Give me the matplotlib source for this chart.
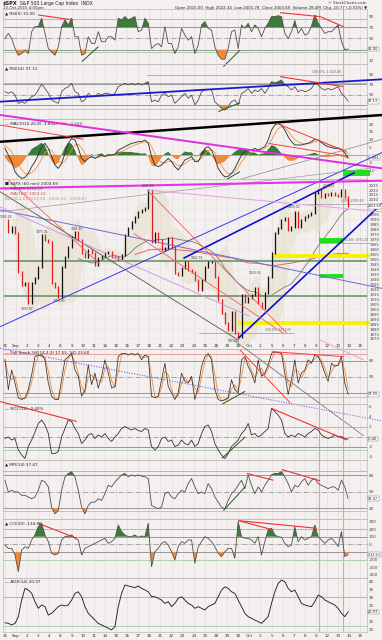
import numpy as np
import pandas as pd
import matplotlib
matplotlib.use("Agg")
import matplotlib.pyplot as plt
import matplotlib.transforms as mtransforms
from matplotlib.patches import Rectangle

plt.rcParams['font.family'] = ['DejaVu Sans']

# ---------------- data ----------------
day_labels = ["31", "Sep", "2", "3", "4", "8", "9", "10", "11", "14", "15", "16", "17", "18",
              "21", "22", "23", "24", "25", "28", "29", "30", "Oct", "2", "5", "6", "7", "8", "9",
              "12", "13", "14", "15"]
sample_step_days = 0.3          # trading days between samples (hourly chart, resampled)

rsi5 = [50, 59, 50, 32, 20, 23, 29, 23, 62, 71,
        71, 86, 59, 32, 26, 20, 35, 71, 83, 74,
        86, 53, 53, 20, 23, 53, 41, 41, 62, 44,
        44, 53, 53, 47, 86, 83, 89, 83, 86, 89,
        62, 65, 86, 77, 32, 38, 41, 35, 71, 41,
        41, 23, 35, 68, 56, 47, 53, 23, 38, 74,
        80, 68, 65, 35, 20, 13, 13, 32, 62, 65,
        32, 74, 68, 77, 62, 74, 68, 53, 68, 77,
        89, 89, 90.5, 89, 59, 50, 62, 82, 59, 68,
        56, 59, 72, 92, 77, 68, 59, 62, 62, 68,
        74, 44, 30, 31.0]

rsi14 = [55.7, 52.5, 55.7, 49.3, 33.1, 36, 33, 39.6, 46, 49,
         59, 70.6, 62, 52.5, 39.6, 36, 33, 55.7, 62, 65,
         72, 55.7, 52.5, 36, 39.6, 52.5, 46, 46, 52.5, 49,
         52.5, 52.5, 49, 52.5, 65.4, 68.7, 72, 68.7, 72, 68.7,
         72, 68.7, 72, 75, 36, 39.6, 36, 49, 52.5, 46,
         49, 33, 39.6, 46, 52.5, 42.8, 49, 30, 39.6, 55.7,
         59, 60.3, 59, 36, 30, 23.4, 20, 26.6, 36.3, 39.6,
         30, 52.5, 55.7, 62, 52.5, 59, 55.7, 62, 52.5, 62,
         75, 73, 75, 78.4, 68.7, 65.4, 59, 65.4, 55.7, 59,
         55.7, 57.7, 62, 72, 68.7, 62, 59, 62, 59, 62,
         65.4, 52.5, 46, 37.13]

macd = [4.3, 0, -4.3, -10.8, -13.6, -15.2, -14.5, -11.9, -7.6, -4.3,
        0, 5.4, 7.6, 4.3, -1, -6.5, -8.7, -5.4, 1, 7.6,
        10.8, 9.7, 4.3, -2.2, -4.3, -2.2, -1, -2.2, -1, 0,
        -1, 0, 0, 0.6, 3.2, 4.3, 5.4, 6.5, 7.6, 8,
        8.7, 8.7, 9.7, 7.6, -1, -6.5, -7.6, -6.5, -4.3, -2.2,
        -4.3, -7.6, -9.7, -6.5, -3.2, -2.2, -1, -4.3, -4.3, 0,
        4.3, 5.4, 3.2, -2.2, -8.7, -12, -14.3, -13.8, -11.9, -8.7,
        -4.3, 0, 2.2, 3.2, 3.2, 4.3, 3.2, 4.3, 5.4, 9.7,
        16.2, 19.5, 20.6, 19.5, 16.2, 11.9, 8.7, 6.5, 6.5, 6.5,
        7.1, 7.6, 8.7, 10.2, 9.7, 8, 6.5, 5.4, 4.9, 4.3,
        4.3, 3.2, 1.5, -1.804]

macd_signal = [6.0, 4.5, 2.0, -2.0, -6.0, -9.5, -11.8, -12.5, -11.5, -9.5,
               -6.5, -2.5, 1.5, 3.5, 3.0, 0.0, -3.5, -5.5, -4.0, -0.5,
               3.5, 6.5, 7.0, 4.5, 1.0, -1.0, -1.5, -1.8, -1.6, -1.0,
               -0.8, -0.6, -0.3, 0.0, 1.0, 2.2, 3.4, 4.5, 5.6, 6.5,
               7.3, 7.9, 8.5, 8.4, 5.5, 1.0, -2.8, -5.0, -5.2, -4.3,
               -4.1, -5.3, -6.9, -7.0, -5.5, -4.0, -2.8, -3.2, -3.6, -2.2,
               0.5, 2.8, 3.4, 1.6, -2.5, -6.8, -10.2, -12.0, -12.2, -10.8,
               -8.0, -4.5, -1.5, 0.5, 1.6, 2.7, 3.0, 3.5, 4.2, 6.0,
               9.8, 13.8, 17.0, 18.5, 17.8, 15.5, 12.5, 10.0, 8.5, 7.5,
               7.2, 7.3, 7.8, 8.8, 9.3, 8.8, 7.8, 6.7, 5.9, 5.2,
               4.8, 4.1, 2.9, 0.744]

price = [1989.7, 1978, 1983, 1976.3, 1937.7, 1924.3, 1926, 1905.8, 1926, 1931,
         1942.7, 1974.6, 1969.6, 1968, 1926, 1922.6, 1912.5, 1942.7, 1952.8, 1962.9,
         1973, 1978, 1969.6, 1956.2, 1952.8, 1959.5, 1956.2, 1944.4, 1951.1, 1953.5,
         1956.2, 1957.9, 1952.1, 1952.8, 1950.1, 1954.5, 1974.6, 1981.4, 1988, 1993.1,
         1998.1, 1999.8, 2001.5, 2020.0, 1968, 1976.3, 1969.6, 1959.5, 1961.2, 1971.3,
         1962.9, 1936, 1934.4, 1941.1, 1947.8, 1939.4, 1937.7, 1929.3, 1919.2, 1929.3,
         1942.7, 1947.8, 1947.8, 1932.7, 1909.2, 1895.7, 1885.7, 1878.9, 1897.4, 1875.6,
         1872.3, 1914.2, 1907.5, 1910.8, 1914.2, 1920.9, 1905.8, 1900.8, 1915.9, 1932.7,
         1956.2, 1976.3, 1981.4, 1989.7, 1991.4, 1979.7, 1983, 1998.1, 1983, 1989.7,
         1993.1, 1994.8, 1996.5, 2016.6, 2020, 2013.2, 2016, 2015, 2017.3, 2015,
         2014, 2020, 2012.7, 2003.69]

stoch_k = [82, 26, 63, 38.5, 10.7, 7.6, 10.7, 26, 54, 88,
           91, 91, 82, 38.5, 13.8, 7.6, 7.6, 44.7, 82, 88,
           94, 63, 51, 13.8, 26, 72.6, 35.4, 57, 29, 51,
           82, 57, 29, 32, 88, 94, 94, 91, 94, 91,
           94, 82, 91, 88, 13.8, 10.7, 13.8, 44.7, 75.7, 32,
           20, 7.6, 20, 57, 41.6, 38.5, 51, 7.6, 32, 69.5,
           88, 94, 82, 26, 7.6, 4.5, 7.6, 10.7, 44.7, 26,
           20, 82, 88, 69.5, 57, 38.5, 82, 51, 57, 72.6,
           94, 97, 95.5, 94, 57, 17, 44.7, 82, 38.5, 57,
           63, 82, 75.7, 91, 88, 75.7, 57, 41.6, 75.7, 69.5,
           72.6, 88, 38.5, 17.55]

roc = [-0.3, 0, -0.6, -0.3, -2.6, -3.6, -4.3, -1.9, -0.6, 1,
       2.7, 3.4, 2.4, 0.7, -3.3, -3.3, -2.9, 0, 1.7, 3.4,
       3.1, 1.7, 0.7, -1.3, -0.6, 0.4, 0.7, -0.3, 0.4, 0,
       0.7, -0.3, -0.9, 0, 0.7, 1.7, 2.1, 1.7, 1.4, 1.7,
       1.3, 1.1, 1.7, 1.4, -1.9, -2.6, -1.9, -0.3, 0, -0.9,
       -0.6, -1.9, -1.6, -0.6, -1.3, -1.6, -0.6, -1.9, -1.3, 0.7,
       2.1, 2.4, 1.1, -1.3, -2.6, -3.6, -4.3, -3.3, -1.9, -1.3,
       -0.6, 0.7, 1.4, 2.7, 0.4, 0.7, 0, 0.4, 1.1, 1.7,
       5.7, 5.1, 4.4, 3.4, 0.7, 0, 0.4, 0, 0.7, 0.4,
       0, 0.7, 1.1, 1.7, 1.4, 0.4, 0, -0.3, 0, 0.4,
       0, 0.1, -0.3, -0.40]

mfi = [70.8, 49.4, 52.5, 49.4, 49.4, 43.3, 43.3, 40.2, 37.1, 40.2,
       52.5, 70.8, 67.8, 58.6, 21.8, 9.6, 15.7, 52.5, 77, 83.1,
       86.2, 77, 52.5, 21.8, 9.6, 24.9, 31, 31, 37.1, 34.1,
       46.3, 61.6, 58.6, 67.8, 73.9, 80.5, 83.1, 77, 80.5, 78.2,
       80.5, 78.2, 77, 73.9, 24.9, 21.8, 18.8, 21.8, 46.3, 49.4,
       40.2, 37.1, 46.3, 52.5, 49.4, 64.7, 73.9, 58.6, 46.3, 49.4,
       46.3, 64.7, 55.5, 40.2, 31, 21.8, 18.8, 34.1, 46.3, 52.5,
       61.6, 70.8, 55.5, 80.5, 61.6, 46.3, 58.6, 49.4, 61.6, 70.8,
       80.5, 83.1, 83.1, 86.2, 77, 64.7, 49.4, 61.6, 58.6, 67.8,
       73.9, 61.6, 70.8, 73.9, 64.7, 61.6, 58.6, 55.5, 58.6, 58.6,
       52.5, 70.8, 58.6, 37.47]

cci = [-9, -53, -53, -140, -360, -75, -31, -53, 57, 123,
       232, 276, 123, 35, -118, -140, -118, 57, 101, 110,
       123, 79, 57, -140, -53, -31, -9, 13, 35, 57,
       79, 13, 35, 79, 254, 167, 123, 101, 101, 123,
       92, 110, 101, 276, -294, -97, -53, 13, 35, -9,
       -97, -206, -31, 35, 13, 57, 57, -250, -31, 35,
       101, 79, 35, -31, -118, -162, -97, -53, -53, -184,
       298, 101, 79, 79, 57, 13, 101, -140, 35, 189,
       211, 123, 101, 92, 13, -31, -9, 232, 35, 101,
       57, 79, 101, 254, 101, 57, 13, 57, 79, 35,
       -31, 167, -162, -134.5]

adx = [14.2, 13.8, 12.8, 13.8, 18, 28.4, 35.7, 34.7, 32.6, 27.4,
       23.2, 25.3, 24.3, 19, 20.1, 22.2, 24.3, 25.3, 24.7, 25.3,
       28.4, 32.6, 33.6, 30.5, 24.3, 20.1, 18, 15.9, 13.8, 12.8,
       11.8, 10.7, 9.7, 11.8, 24.3, 32.6, 37.8, 37.2, 36.7, 36.1,
       37.2, 35.7, 34.7, 33.6, 30.5, 30.5, 29.5, 28.4, 26.3, 27.4,
       24.3, 26.3, 29.5, 30.5, 28.4, 26.3, 25.3, 23.2, 24.3, 23.2,
       22.2, 24.3, 25.3, 26.3, 30.5, 34.7, 36.7, 35.7, 33.6, 32.6,
       28.4, 24.3, 20.1, 18, 17, 15.9, 14.9, 13.8, 15.9, 18,
       26.3, 33.6, 38.8, 40.9, 39.9, 35.7, 33.6, 34.7, 30.5, 26.3,
       25.3, 24.7, 24.3, 27.4, 31.5, 30.5, 28.4, 27.4, 26.3, 25.3,
       23.2, 20.1, 18, 20.97]

# trend lines (day, value, day, value) in each panel's own units
rsi5_red_trends = [(3.0, 91.8, 6.16, 82.9), (24.77, 96.0, 28.38, 88.9), (28.38, 88.9, 30.48, 71.0)]
rsi5_green_trends = [(6.91, 8.5, 8.41, 35.3), (19.67, -0.4, 21.17, 29.4)]
rsi14_blue_trends = [(-0.45, 36.3, 33.96, 79.7)]
rsi14_red_trends = [(24.77, 84.9, 30.48, 65.4)]
rsi14_green_trends = [(19.22, 16.9, 21.17, 34.4)]
macd_black_trends = [(-0.45, 8.6, 33.96, 26.0)]
macd_magenta_trends = [(-0.45, 26.0, 33.96, -8.7)]
macd_red_trends = [(23.72, 7.56, 30.78, -0.67), (24.47, 20.55, 30.78, 2.15), (-0.45, 19.5, 7.06, 10.2)]
macd_gray_trends = [(21.17, -15.8, 33.96, 10.2)]
macd_green_trends = [(19.97, -15.8, 21.17, -10.8)]
price_blue_thin = [(-0.45, 1882.3, 33.96, 2057.7)]
price_blue_bold = [(16.06, 1951.2, 31.5, 2037.7), (21.0, 1870.6, 33.96, 2006.5)]
price_slate = [(-0.45, 2000.0, 33.96, 1920.9)]
price_darkgray = [(-0.45, 2018.3, 21.0, 1868.9)]
price_gray_thin = [(-0.45, 1998.0, 33.0, 2042.0)]
price_red_trends = [(12.8, 2020.0, 25.4, 1875.6), (11.6, 1976.3, 25.1, 1875.6), (0.3, 2030.0, 8.5, 1946.0)]
price_magenta = [(-0.45, 2021.6, 33.96, 2029.4)]
price_pink = [(12.8, 2020.0, 33.96, 1998.0)]
price_violet = [(-0.45, 2003.0, 22.0, 1893.0)]
price_support_lines = [1948.8, 1913.3]
price_yellow_zones = [(24.0, 32.9, 1953.8), (21.0, 32.9, 1885.7)]
price_green_boxes = [(28.3, 30.4, 1966.2, 1971.3), (28.3, 30.4, 1931.0, 1935.4), (30.45, 32.9, 2034.0, 2040.0)]
price_fib_levels = [(27.2, 32.5, 2006.0, "0.0%: 2003.69"), (28.3, 32.9, 1967.0, "23.6%: 1971.20"),
                    (17.5, 26.0, 1875.6, "100.0%: 1874.05")]
price_swing_labels = [(0.1, 1993.0, "1993.45"), (2.0, 1900.5, "1903.07"), (3.3, 1978.0, "1975.01"),
                      (4.9, 1908.0, "1910.93"), (6.5, 1981.0, "1981.83"), (12.9, 2024.0, "2020.86"),
                      (17.3, 1952.0, "1942.74"), (20.6, 1867.5, "1871.91"), (22.5, 1936.0, "1920.36"),
                      (26.0, 2003.0, "1993.52"), (29.2, 2024.0, "2020.13")]
stoch_blue_dotted = [(-0.45, 103.5, 33.96, -32.7)]
stoch_gray_trends = [(20.6, 119.0, 32.3, -60.5)]
stoch_red_trends = [(24.02, 97.3, 30.48, 88.1), (21.17, 100.4, 25.68, 1.4)]
stoch_pink_trends = [(28.38, 119.0, 32.28, 81.9)]
stoch_green_trends = [(19.52, -1.7, 21.62, 23.0)]
roc_red_trends = [(-0.45, 7.1, 6.46, 3.1), (24.02, 5.7, 30.78, -0.6)]
roc_green_trends = [(19.52, -4.3, 21.62, 0.0)]
mfi_red_trends = [(21.77, 83.1, 24.17, 70.8), (24.92, 90.4, 28.38, 69.6)]
mfi_green_trends = [(19.67, 15.7, 21.62, 58.6)]
cci_red_trends = [(3.0, 276, 6.46, 79), (21.02, 311, 24.17, 189), (21.02, 311, 28.08, 211)]
marker_days = [28.3, 30.4]

# ---------------- figure ----------------
W, H = 382, 640
fig = plt.figure(figsize=(W / 100, H / 100), dpi=100)
BG = '#f3f0ef'
fig.patch.set_facecolor(BG)
XMIN, XMAX = -0.18, 32.6
LEFT, RIGHT = 3, 367
GRID = '#dedada'
LINE = '#505050'
GREEN = '#3d7b3d'
ORANGE = '#ee8a3c'
FS = 3.0

n = len(price)
t = np.arange(n) * sample_step_days


def make_axes(top, bottom):
    ax = fig.add_axes([LEFT / W, 1 - bottom / H, (RIGHT - LEFT) / W, (bottom - top) / H])
    ax.set_facecolor('none')
    ax.set_xlim(XMIN, XMAX)
    for s in ax.spines.values():
        s.set_color('#bdb8b8')
        s.set_linewidth(0.5)
    ax.set_xticks([])
    return ax


def style_y(ax, ylim, ticks, last=None, fmt="{:.0f}", fs=FS):
    ax.set_ylim(*ylim)
    ax.yaxis.tick_right()
    ax.set_yticks(ticks)
    h_px = ax.get_position().height * H
    thr = (ylim[1] - ylim[0]) * 4.2 / h_px
    labs = [('' if (last is not None and abs(v - last) < thr) else fmt.format(v)) for v in ticks]
    ax.set_yticklabels(labs, fontsize=fs, color='#444444')
    ax.tick_params(axis='y', length=0, pad=1.5)
    for i in range(len(day_labels)):
        ax.axvline(i, color=GRID, lw=0.4, zorder=0)
    for d in marker_days:
        ax.axvline(d, color='#f19c9c', lw=0.8, zorder=1)


def seg(ax, segs, color, lw, ls='-', alpha=1.0):
    for d0, v0, d1, v1 in segs:
        ax.plot([d0, d1], [v0, v1], color=color, lw=lw, ls=ls, alpha=alpha,
                clip_on=False, zorder=5, solid_capstyle='butt')


def hl(ax, v, color, lw=0.6, ls='-'):
    ax.axhline(v, color=color, lw=lw, ls=ls, zorder=1)


def label(ax, text, color='#222222', y=None):
    ax.text(0.006, 0.955 if y is None else y, text, transform=ax.transAxes, fontsize=FS,
            va='top', ha='left', color=color, zorder=8)


def valbox(ax, v, txt, fs=2.6):
    tr = mtransforms.blended_transform_factory(ax.transAxes, ax.transData)
    ax.text(1.003, v, txt, transform=tr, fontsize=fs, va='center', ha='left', color='#222',
            bbox=dict(boxstyle='square,pad=0.1', fc='white', ec='#777777', lw=0.3),
            clip_on=False, zorder=9)


def osc(ax, y, hi=None, lo=None):
    y = np.asarray(y, float)
    if hi is not None:
        ax.fill_between(t, y, hi, where=y >= hi, interpolate=True, color=GREEN, lw=0, zorder=2)
    if lo is not None:
        ax.fill_between(t, y, lo, where=y <= lo, interpolate=True, color=ORANGE, lw=0, zorder=2)
    ax.plot(t, y, color=LINE, lw=0.6, zorder=3)


# header
fig.text(3 / W, 1 - 3 / H, "$SPX", fontsize=3.6, weight='bold', va='center', color='#222')
fig.text(20 / W, 1 - 3 / H, "S&P 500 Large Cap Index  INDX", fontsize=3.3, va='center', color='#222')
fig.text(3 / W, 1 - 7.5 / H, "13-Oct-2015 4:00pm", fontsize=2.8, va='center', color='#333')
fig.text(367 / W, 1 - 3 / H, "© StockCharts.com", fontsize=2.8, va='center', ha='right', color='#333')
fig.text(367 / W, 1 - 7.5 / H,
         "Open 2015.00  High 2022.34  Low 2001.78  Close 2003.69  Volume 28.4M  Chg -10.77 (-0.53%) ▼",
         fontsize=2.8, va='center', ha='right', color='#222')

# ---- RSI(5)
ax = make_axes(9, 64)
style_y(ax, (4.4, 102.5), [10, 30, 50, 70, 90], last=rsi5[-1])
hl(ax, 85, '#f09090'); hl(ax, 70, '#8a8a8a'); hl(ax, 50, '#9a9a9a', ls='-.')
hl(ax, 30, '#8a8a8a'); hl(ax, 25, '#9cc89c')
osc(ax, rsi5, 70, 30)
seg(ax, rsi5_red_trends, '#f03030', 0.8)
seg(ax, rsi5_green_trends, '#1f5a1f', 0.7)
label(ax, "▲ RSI(5) 31.00")
valbox(ax, rsi5[-1], "31.00")

# ---- RSI(14)
ax = make_axes(64, 119)
style_y(ax, (2.7, 109.4), [30, 50, 70, 90], last=rsi14[-1])
hl(ax, 72, '#f09090'); hl(ax, 70, '#8a8a8a'); hl(ax, 50, '#9a9a9a', ls='-.')
hl(ax, 30, '#8a8a8a'); hl(ax, 23, '#a8c8a8')
ax.plot([12.76, 30.48], [88.1, 88.1], color='#9a9a9a', lw=0.5, zorder=2)
ax.text(30.3, 90.5, "100.0%: 2,020.86", fontsize=2.3, color='#666', ha='right', va='bottom')
osc(ax, rsi14, 70, 30)
seg(ax, rsi14_blue_trends, '#1a1acc', 1.3)
seg(ax, rsi14_red_trends, '#f03030', 0.8)
seg(ax, rsi14_green_trends, '#1f5a1f', 0.7)
label(ax, "▲ RSI(14) 37.13")
valbox(ax, rsi14[-1], "37.13")

# ---- MACD
ax = make_axes(119, 179)
style_y(ax, (-15.6, 23.4), [-10, -5, 0, 5, 10, 15, 20], last=macd[-1])
hl(ax, 0, '#9a9a9a')
m = np.asarray(macd, float)
sgl = np.asarray(macd_signal, float)
hist = m - sgl
ax.fill_between(t, hist, 0, where=hist >= 0, interpolate=True, color=GREEN, lw=0, zorder=2)
ax.fill_between(t, hist, 0, where=hist <= 0, interpolate=True, color=ORANGE, lw=0, zorder=2)
ax.plot(t, sgl, color='#f08a3a', lw=0.55, zorder=3)
ax.plot(t, m, color='#333333', lw=0.65, zorder=3)
seg(ax, macd_black_trends, '#000000', 1.8)
seg(ax, macd_magenta_trends, '#e02ee0', 1.4)
seg(ax, macd_red_trends, '#f04040', 0.7)
seg(ax, macd_gray_trends, '#8a8a8a', 0.5)
seg(ax, macd_green_trends, '#1f5a1f', 0.7)
ax.text(0.006, 0.955, "— MACD(12,26,9) -1.804,", transform=ax.transAxes, fontsize=FS, va='top', color='#222')
ax.text(0.145, 0.955, "0.744,", transform=ax.transAxes, fontsize=FS, va='top', color='#e07a2a')
ax.text(0.183, 0.955, "-2.548", transform=ax.transAxes, fontsize=FS, va='top', color='#3d7b3d')
valbox(ax, m[-1], "-1.804")

# ---- Price
ax = make_axes(179, 349)
ptick = list(range(1870, 2026, 5))
pa = np.asarray(price, float)
style_y(ax, (1859.9, 2031.1), ptick, last=pa[-1], fs=2.8)
for v in range(1870, 2031, 10):
    ax.axhline(v, color='#e6e2e2', lw=0.35, zorder=0)
s = pd.Series(price, dtype=float)
mid = s.rolling(7, min_periods=3).mean()
sd = s.rolling(7, min_periods=3).std()
ax.fill_between(t, mid - 1.6 * sd, mid + 1.6 * sd, color='#e8dfcd', alpha=0.6, lw=0, zorder=1)
ax.plot(t, s.rolling(23, min_periods=23).mean(), color='#666666', lw=0.5, zorder=2)
ax.plot(t, s.rolling(60, min_periods=40).mean(), color='#f05050', lw=0.6, zorder=2)
for v in price_support_lines:
    ax.axhline(v, color='#5d8f5d', lw=1.1, zorder=2)
for d0, d1, v in price_yellow_zones:
    ax.plot([d0, d1], [v, v], color='#f6f200', lw=2.8, solid_capstyle='butt', clip_on=False, zorder=2)
for d0, d1, v0, v1 in price_green_boxes:
    ax.add_patch(Rectangle((d0, v0), d1 - d0, v1 - v0, color='#22dd22', lw=0, zorder=2, clip_on=False))
for d0, d1, v, txt in price_fib_levels:
    ax.plot([d0, d1], [v, v], color='#9a9a9a', lw=0.5, zorder=2, clip_on=False)
    ax.text(d1 - 0.2, v + 1.0, txt, fontsize=2.2, color='#666', ha='right', va='bottom')
lo = np.minimum(pa[:-1], pa[1:])
hi = np.maximum(pa[:-1], pa[1:])
cols = np.where(pa[1:] >= pa[:-1], '#111111', '#e21d1d')
ax.vlines(t[1:], lo - 1.0, hi + 1.0, colors=cols, lw=0.9, zorder=4)
seg(ax, price_blue_thin, '#3a3ae6', 0.7)
seg(ax, price_blue_bold, '#1010cc', 1.2)
seg(ax, price_slate, '#6c6cd8', 0.7)
seg(ax, price_darkgray, '#555555', 0.6)
seg(ax, price_gray_thin, '#9a9a9a', 0.5)
seg(ax, price_red_trends, '#f06060', 0.6)
seg(ax, price_magenta, '#e633e6', 1.5)
seg(ax, price_pink, '#e7a0e7', 0.7)
seg(ax, price_violet, '#c890e8', 0.6)
for d, v, txt in price_swing_labels:
    ax.text(d, v, txt, fontsize=2.2, color='#444', ha='center', va='center', zorder=6)
label(ax, "■ $SPX (60 min) 2003.69", y=0.985)
label(ax, "— MA(50) 1992.07", y=0.955, color='#555555')
label(ax, "— MA(100) 1953.15", y=0.925, color='#e04040')
label(ax, "BB(20,2.0) 2019.58 - 2005.19 - 1990.67", y=0.895, color='#b0a080')
valbox(ax, pa[-1], "2003.69", fs=2.3)
trx = mtransforms.blended_transform_factory(ax.transData, ax.transAxes)
for i, lab in enumerate(day_labels):
    ax.text(i, 0.018, lab, transform=trx, fontsize=FS, ha='center', va='center', color='#333')

# ---- Stochastic
ax = make_axes(349, 404)
style_y(ax, (-0.85, 102.3), [20, 50, 80], last=stoch_k[-1])
hl(ax, 92, '#f09090'); hl(ax, 80, '#8a8a8a'); hl(ax, 50, '#9a9a9a', ls='-.')
hl(ax, 20, '#8a8a8a'); hl(ax, 12, '#a8c8a8')
k = pd.Series(stoch_k, dtype=float)
ax.plot(t, k.rolling(2, min_periods=1).mean(), color='#f08a3a', lw=0.6, zorder=3)
ax.plot(t, k, color='#333333', lw=0.55, zorder=3)
seg(ax, stoch_blue_dotted, '#4a4ae0', 0.7, ls=':')
seg(ax, stoch_gray_trends, '#777777', 0.6)
seg(ax, stoch_red_trends, '#f04040', 0.7)
seg(ax, stoch_pink_trends, '#e8a0e8', 0.7)
seg(ax, stoch_green_trends, '#1f5a1f', 0.7)
ax.text(0.006, 0.955, "— Full Stoch %K(14,3,3) 17.55, %D 23.60", transform=ax.transAxes,
        fontsize=FS, va='top', color='#222')
valbox(ax, k.iloc[-1], "17.55")

# ---- ROC
ax = make_axes(404, 460)
style_y(ax, (-4.6, 6.6), [-4, -2, 0, 2, 4, 6], last=roc[-1])
hl(ax, 2, '#f09090'); hl(ax, 0, '#9a9a9a', ls='-.'); hl(ax, -2, '#8a8a8a'); hl(ax, -2.6, '#a8c8a8')
ax.plot(t, roc, color='#333333', lw=0.6, zorder=3)
seg(ax, roc_red_trends, '#f03030', 0.8)
seg(ax, roc_green_trends, '#1f5a1f', 0.7)
label(ax, "— ROC(12) -0.40%")
valbox(ax, roc[-1], "-0.40")

# ---- MFI
ax = make_axes(460, 519)
style_y(ax, (0.2, 107.6), [20, 50, 80], last=mfi[-1])
hl(ax, 87, '#f09090'); hl(ax, 80, '#8a8a8a'); hl(ax, 50, '#9a9a9a', ls='-.')
hl(ax, 20, '#8a8a8a'); hl(ax, 14, '#a8c8a8')
osc(ax, mfi, 80, 20)
seg(ax, mfi_red_trends, '#f03030', 0.8)
seg(ax, mfi_green_trends, '#1f5a1f', 0.7)
label(ax, "▲ MFI(14) 37.47")
valbox(ax, mfi[-1], "37.47")

# ---- CCI
ax = make_axes(519, 578)
style_y(ax, (-443, 333), [-400, -300, -200, -100, 0, 100, 200, 300], last=cci[-1])
hl(ax, 200, '#f09090'); hl(ax, 100, '#8a8a8a'); hl(ax, 0, '#9a9a9a', ls='-.')
hl(ax, -100, '#8a8a8a'); hl(ax, -200, '#a8c8a8')
osc(ax, cci, 100, -100)
seg(ax, cci_red_trends, '#f03030', 0.8)
label(ax, "▲ CCI(20) -134.50")
valbox(ax, cci[-1], "-134.50", fs=2.3)

# ---- ADX
ax = make_axes(578, 632)
style_y(ax, (8.4, 42.2), [10, 15, 20, 25, 30, 35, 40], last=adx[-1])
hl(ax, 30, '#f09090'); hl(ax, 12.4, '#a8c8a8')
ax.plot(t, adx, color='#222222', lw=0.65, zorder=3)
label(ax, "— ADX(14) 20.97")
valbox(ax, adx[-1], "20.97")
trx = mtransforms.blended_transform_factory(ax.transData, ax.transAxes)
for i, lab in enumerate(day_labels):
    ax.text(i, -0.075, lab, transform=trx, fontsize=FS, ha='center', va='center', color='#333',
            clip_on=False)

fig.savefig("out.png", dpi=100, facecolor=BG)
